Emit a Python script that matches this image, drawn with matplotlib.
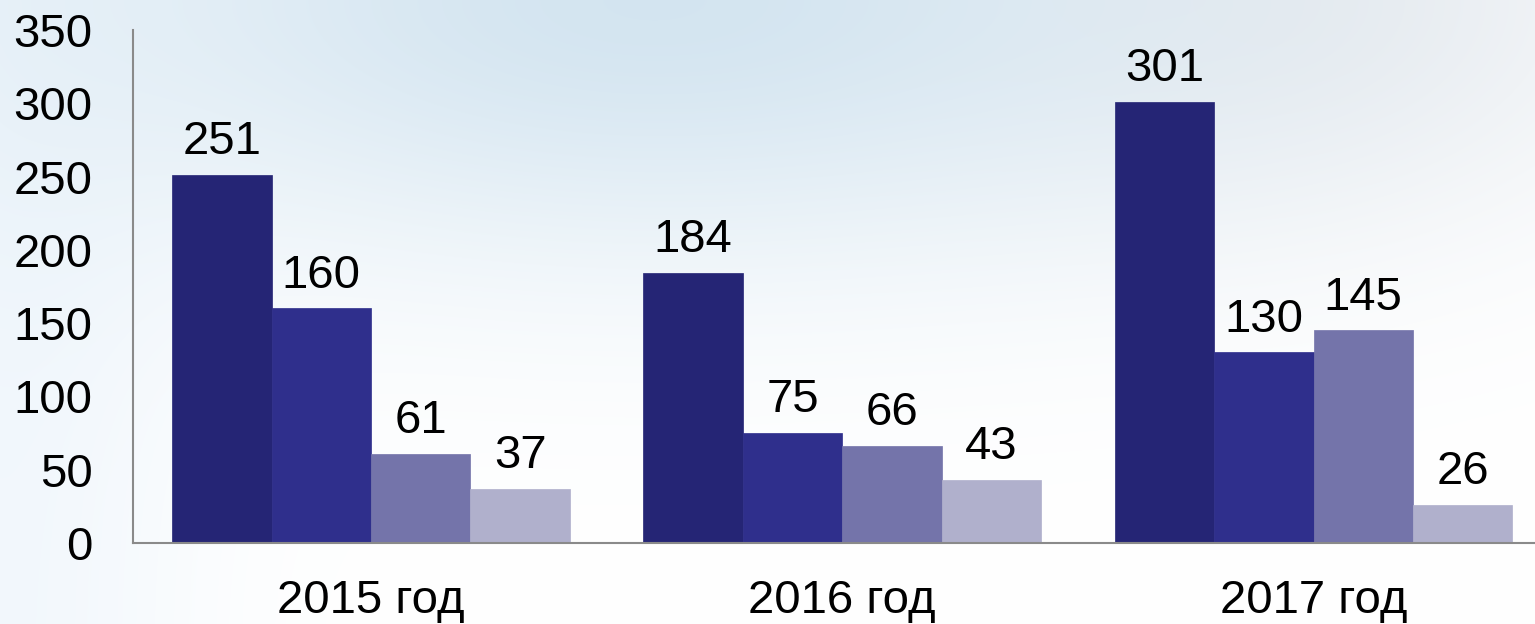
import numpy as np
import matplotlib
matplotlib.use("Agg")
import matplotlib.pyplot as plt

# ---- data ----
categories = ["2015 год", "2016 год", "2017 год"]
series_a = [251, 184, 301]
series_b = [160, 75, 130]
series_c = [61, 66, 145]
series_d = [37, 43, 26]
yticks = [0, 50, 100, 150, 200, 250, 300, 350]

colors = ["#252575", "#2f2f8c", "#7474aa", "#b0b0cc"]

plt.rcParams['font.family'] = ['Liberation Sans', 'DejaVu Sans']

W, H = 1535, 624
fig = plt.figure(figsize=(W / 100, H / 100), dpi=100)

# background gradient (styling only)
bg = fig.add_axes([0, 0, 1, 1], zorder=-10)
yy, xx = np.mgrid[0:H, 0:W].astype(float)
img = np.ones((H, W, 3))
blue = np.array([0xcf, 0xe2, 0xef]) / 255.0
wblue = np.exp(-((xx - 650) / 650) ** 2) * np.exp(-(yy / 260) ** 2) * 0.9
left = np.array([0xea, 0xf3, 0xfb]) / 255.0
wleft = np.exp(-(xx / 200) ** 2) * 0.6
gray = np.array([0xea, 0xeb, 0xee]) / 255.0
wgray = np.exp(-((xx - 1300) / 350) ** 2) * np.exp(-(yy / 220) ** 2) * 0.8
for c, w in ((left, wleft), (gray, wgray), (blue, wblue)):
    img = img * (1 - w[..., None]) + c[None, None, :] * w[..., None]
bg.imshow(img, aspect='auto', extent=[0, 1, 0, 1], origin='upper')
bg.set_axis_off()

ax = fig.add_axes([133 / W, (H - 543) / H, (W - 133) / W, (543 - 30) / H])
ax.patch.set_alpha(0)

FS = 34
x = np.arange(len(categories))
bw = 0.211
all_series = [series_a, series_b, series_c, series_d]
for i, (vals, col) in enumerate(zip(all_series, colors)):
    offs = (i - 1.5) * bw
    bars = ax.bar(x + offs, vals, bw, color=col, edgecolor=col, linewidth=0.5, zorder=2)
    for b, v in zip(bars, vals):
        ax.annotate(str(v), (b.get_x() + b.get_width() / 2, v),
                    xytext=(0, 15), textcoords='offset points',
                    ha='center', va='baseline', fontsize=FS, color='black')

ax.set_ylim(0, 350)
ax.set_xlim(-0.505, 2.47)
ax.set_yticks(yticks)
ax.set_yticklabels([str(t) for t in yticks])
ax.set_xticks(x)
ax.set_xticklabels(categories)
ax.tick_params(axis='y', length=0, pad=29, labelsize=FS)
ax.tick_params(axis='x', length=0, pad=26, labelsize=FS)
for s in ('top', 'right'):
    ax.spines[s].set_visible(False)
for s in ('left', 'bottom'):
    ax.spines[s].set_color('#8a8a8a')
    ax.spines[s].set_linewidth(1.5)

fig.savefig("out.png", dpi=100)
